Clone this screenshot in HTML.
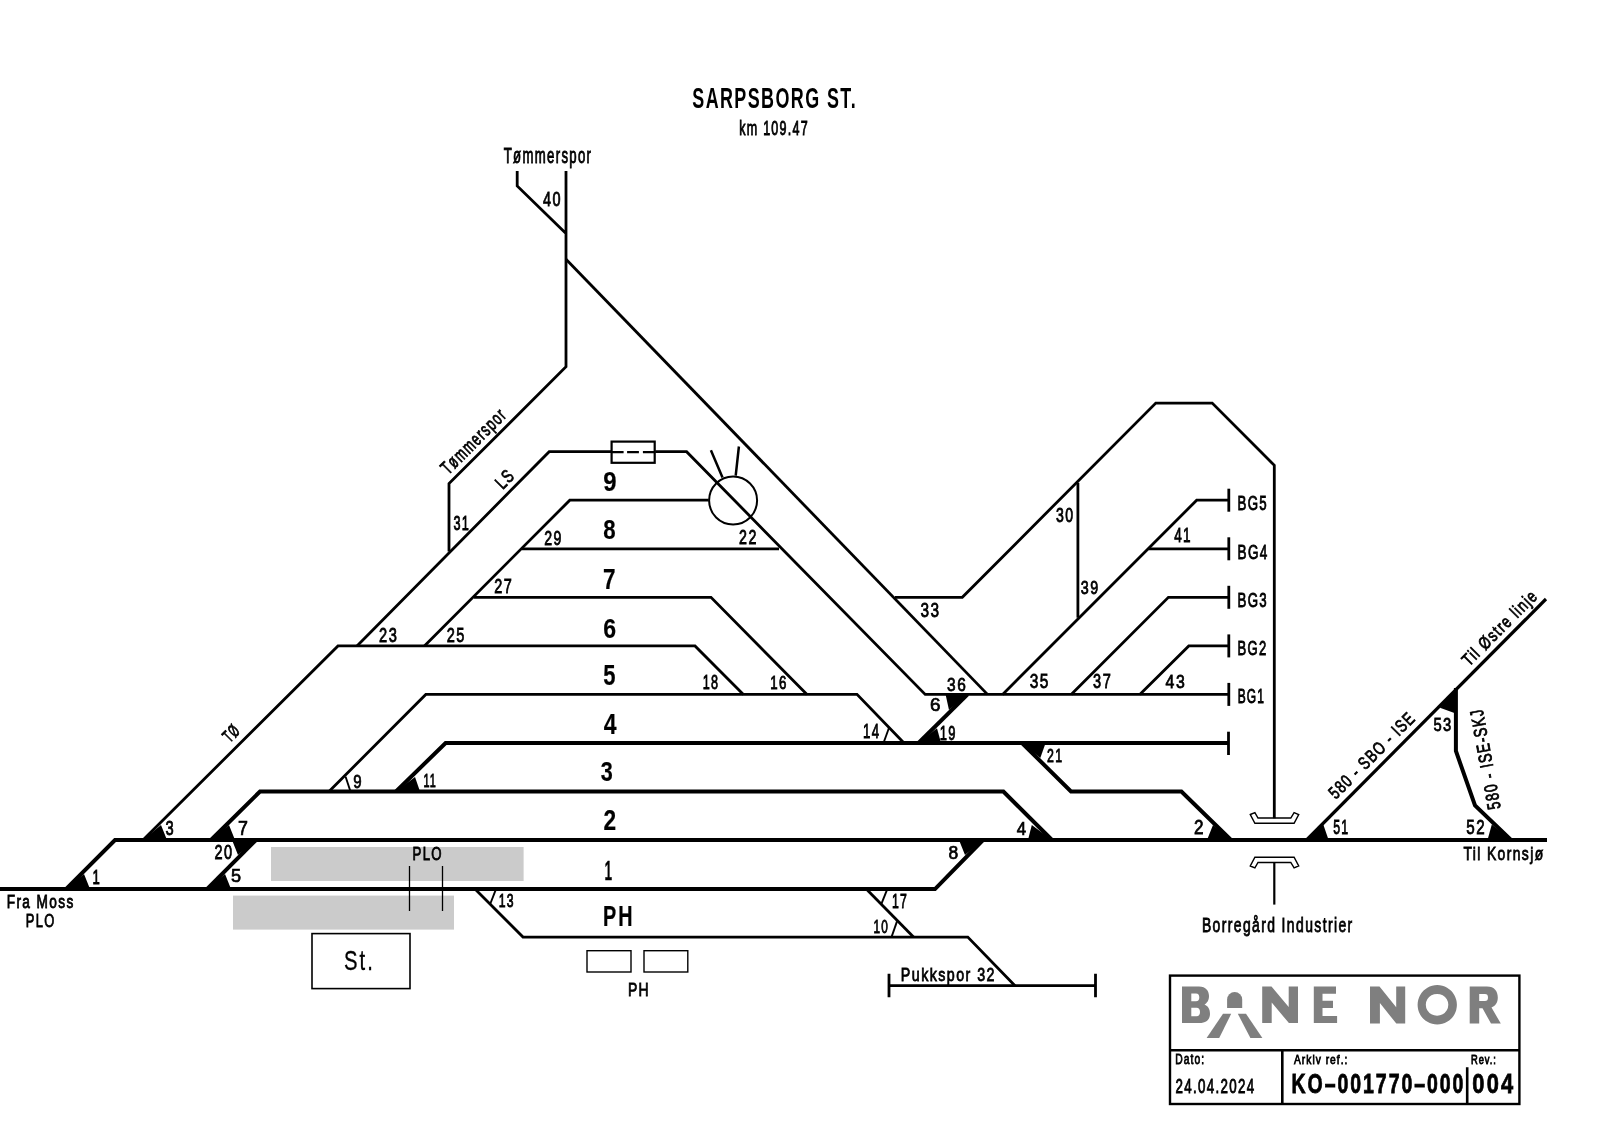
<!DOCTYPE html>
<html><head><meta charset="utf-8"><style>
html,body{margin:0;padding:0;background:#fff;overflow:hidden;}
svg{display:block;will-change:transform;}
text{font-family:"Liberation Sans",sans-serif;fill:#000;}
</style></head><body>
<svg width="1600" height="1131" viewBox="0 0 1600 1131">
<rect width="1600" height="1131" fill="#fff"/>
<g fill="none" stroke="#000" stroke-linejoin="miter" stroke-linecap="butt">
<path d="M0,889.1 H935 L983,840.0" stroke-width="4.0" />
<path d="M66,889.1 L115,840.0 H1547" stroke-width="4.0" />
<path d="M211,840.0 L260,791.5 H1003.4 L1052,840.0" stroke-width="4.0" />
<path d="M256,840.0 L207,889.1" stroke-width="4.0" />
<path d="M396,791.5 L445.6,743.0 H1228.5" stroke-width="4.0" />
<path d="M1022,743.0 L1071,791.5 H1181.4 L1231,840.0" stroke-width="4.0" />
<path d="M1306.6,840.0 L1546,599" stroke-width="3.2" />
<path d="M1455.9,688 V751 L1475,805.5 L1511,840.0" stroke-width="4.0" />
<path d="M329,791.5 L425.8,694.4 H857 L904,743.0" stroke-width="2.8" />
<path d="M143,840.0 L338,645.9 H695 L743.4,694.4" stroke-width="2.8" />
<path d="M424.4,645.9 L569.8,500.2 H708.7" stroke-width="2.8" />
<path d="M474,597.3 H711 L807,694.4" stroke-width="2.8" />
<path d="M522,548.8 H779" stroke-width="2.8" />
<path d="M357,645.9 L549.2,451.7 H611.1 M655.2,451.7 H686.6 L925.2,694.4 H1228.8" stroke-width="2.8" />
<path d="M967.6,694.4 L918.5,743.0" stroke-width="4.0" />
<path d="M517.2,171 V186 L566,233.5 M566,171 V366.7 L449,483.6 V551.5" stroke-width="2.8" />
<path d="M566,259.2 L987.5,694.4" stroke-width="2.8" />
<path d="M895,597.3 H962.3 L1155.8,403.1 H1212.2 L1274.3,465.3 V818.3" stroke-width="2.8" />
<path d="M1077.9,482.8 V617.7" stroke-width="2.8" />
<path d="M1002.6,694.4 L1196.7,500.2 H1228.8" stroke-width="2.8" />
<path d="M1148.5,548.8 H1228.8" stroke-width="2.8" />
<path d="M1071.2,694.4 L1168.4,597.3 H1228.8" stroke-width="2.8" />
<path d="M1139.8,694.4 L1188.8,645.9 H1228.8" stroke-width="2.8" />
<path d="M475,889.1 L523,937.1 H967.8 L1015,985.7" stroke-width="2.8" />
<path d="M866.3,889.1 L913.5,937.1" stroke-width="2.8" />
<path d="M889,985.7 H1095.5 M889,973.8 V997.3 M1095.5,973.8 V997.3" stroke-width="2.8" />
<path d="M1228.8,488.7 V511.7" stroke-width="2.8" />
<path d="M1228.8,537.3 V560.3" stroke-width="2.8" />
<path d="M1228.8,585.8 V608.8" stroke-width="2.8" />
<path d="M1228.8,634.4 V657.4" stroke-width="2.8" />
<path d="M1228.8,682.9 V705.9" stroke-width="2.8" />
<path d="M1228.5,731.7 V755" stroke-width="2.8" />
<path d="M66,889.1 L90.0,889.1 L84.0,874.1 Z" fill="#000" stroke="none"/>
<path d="M143,840.0 L167.0,840.0 L161.0,825.0 Z" fill="#000" stroke="none"/>
<path d="M211,840.0 L235.0,840.0 L229.0,825.0 Z" fill="#000" stroke="none"/>
<path d="M256,840.0 L232.0,840.0 L238.0,855.0 Z" fill="#000" stroke="none"/>
<path d="M207,889.1 L231.0,889.1 L225.0,874.1 Z" fill="#000" stroke="none"/>
<path d="M396,791.5 L420.0,791.5 L415.0,777.1 Z" fill="#000" stroke="none"/>
<path d="M350.5,791.5 L345.6,776.7" stroke-width="1.9"/>
<path d="M496.0,889.1 L490.0,904.5" stroke-width="1.9"/>
<path d="M883.5,743.0 L889.3,727.0" stroke-width="1.9"/>
<path d="M887.3,889.1 L881.3,904.1" stroke-width="1.9"/>
<path d="M891.5,937.1 L897.0,921.4" stroke-width="1.9"/>
<path d="M967.6,694.4 L945.6,694.4 L949.0,710.0 Z" fill="#000" stroke="none"/>
<path d="M918.5,743.0 L941.0,743.0 L937.0,728.3 Z" fill="#000" stroke="none"/>
<path d="M1022,743.0 L1045.6,743.0 L1040.3,758.0 Z" fill="#000" stroke="none"/>
<path d="M1052,840.0 L1028.0,840.0 L1031.8,825.0 Z" fill="#000" stroke="none"/>
<path d="M1231,840.0 L1207.0,840.0 L1213.0,825.0 Z" fill="#000" stroke="none"/>
<path d="M983,840.0 L959.0,840.0 L965.0,855.0 Z" fill="#000" stroke="none"/>
<path d="M1306.6,840.0 L1328.6,840.0 L1323.1,824.0 Z" fill="#000" stroke="none"/>
<path d="M1511,840.0 L1487.5,840.0 L1491.8,824.4 Z" fill="#000" stroke="none"/>
<path d="M1455.9,689 L1454.4,713.0 L1439.9,707.8 Z" fill="#000" stroke="none"/>
<rect x="611.6" y="441.6" width="43.1" height="21.2" stroke-width="2.2" fill="none"/>
<path d="M611.6,452.1 H623.6 M627.1,452.1 H638.9 M642.9,452.1 H654.7" stroke-width="2.4" />
<circle cx="733.1" cy="500.5" r="24" stroke-width="2.0" fill="none"/>
<path d="M722.5,477.4 L710.9,450.2 M735.7,475.7 L738.9,446.5" stroke-width="2.5" />
<rect x="271" y="847" width="252.6" height="34" fill="#cbcbcb" stroke="none"/>
<rect x="233" y="895.6" width="221" height="34" fill="#cbcbcb" stroke="none"/>
<path d="M409.5,866 V911 M442.5,866 V911" stroke-width="1.3" />
<rect x="312" y="933.6" width="98" height="55" stroke-width="1.6" fill="none"/>
<rect x="587" y="950.7" width="44" height="21.3" stroke-width="1.4" fill="none"/>
<rect x="644" y="950.7" width="43.8" height="21.3" stroke-width="1.4" fill="none"/>
<path d="M1250.3,814.5 L1254.9,812.6 L1258,818 H1290.8 L1294.1,812.6 L1298.7,814.5 L1294.1,823.3 H1254.9 Z" stroke-width="1.4" fill="none"/>
<path d="M1250.3,866 L1254.9,867.9 L1258,862.5 H1290.8 L1294.1,867.9 L1298.7,866 L1294.1,857.2 H1254.9 Z" stroke-width="1.4" fill="none"/>
<path d="M1274.3,862.5 V904.6" stroke-width="2.2" />
<rect x="1170" y="975.6" width="349.4" height="128.4" stroke-width="2.4" fill="none"/>
<path d="M1170,1050.2 H1519.4 M1282.3,1050.2 V1104 M1467.2,1067.2 V1104" stroke-width="2.6" />
<g fill="#7f7f7f" stroke="none"><path fill-rule="evenodd" d="M1182,986.5 H1199 C1206,986.5 1209,991 1209,996 C1209,1000.5 1207,1003 1204.5,1004.5 C1208,1006 1210,1009 1210,1014 C1210,1019.5 1206,1023.1 1199.5,1023.1 H1182 Z M1191.3,993.6 V1001.2 H1196 C1198.3,1001.2 1199.3,999.8 1199.3,997.4 C1199.3,995 1198.3,993.6 1196,993.6 Z M1191.3,1007.8 V1016.3 H1196.5 C1199,1016.3 1200,1014.6 1200,1012 C1200,1009.4 1199,1007.8 1196.5,1007.8 Z"/><path d="M1227.1,1008 V999.5 A7.55,7.55 0 0 1 1242.2,999.5 V1008 Z"/><path d="M1223,1013.8 H1231.2 L1219.2,1037.9 H1206.6 Z"/><path d="M1237.8,1013.8 H1246 L1262.4,1037.9 H1250.4 Z"/><path d="M1262.2,986.5 H1271.5 L1288.7,1007 V986.5 H1298 V1023.1 H1288.9 L1271.7,1002.5 V1023.1 H1262.2 Z"/><path d="M1313.8,986.5 H1336 V993.8 H1322.5 V1000.7 H1333 V1008 H1322.5 V1016 H1337.1 V1023.1 H1313.8 Z"/><path d="M1370,986.6 H1379.5 L1396.2,1007.2 V986.6 H1405.2 V1023.6 H1396.3 L1379.9,1003 V1023.6 H1370 Z"/><path fill-rule="evenodd" d="M1437.25,985.1 A19.65,19.7 0 1 1 1437.24,985.1 Z M1437.05,993.9 A11.25,10.9 0 1 0 1437.06,993.9 Z"/><path fill-rule="evenodd" d="M1469.7,986.6 H1487 C1494.5,986.6 1497.8,991.5 1497.8,997.5 C1497.8,1002.5 1495.5,1006 1491.5,1007.5 L1500.8,1023.6 H1491 L1482.5,1008.2 H1479.2 V1023.6 H1469.7 Z M1479.2,994.1 V1001.1 H1485 C1487,1001.1 1488,1000 1488,997.6 C1488,995.2 1487,994.1 1485,994.1 Z"/></g>
</g>
<g stroke="#000">
<text font-size="100" font-weight="bold" stroke="none" letter-spacing="8" transform="matrix(0.17918,0,0,0.28857,692.26,107.90)">SARPSBORG ST.</text>
<text font-size="100" stroke-width="4.47" letter-spacing="10" transform="matrix(0.12530,0,0,0.19586,739.19,134.60)">km 109.47</text>
<text font-size="100" stroke-width="4.19" letter-spacing="10" transform="matrix(0.13181,0,0,0.21159,503.74,162.90)">Tømmerspor</text>
<text font-size="100" stroke-width="4.18" letter-spacing="10" transform="matrix(0.14459,0,0,0.19429,543.01,205.70)">40</text>
<text font-size="100" stroke-width="4.39" letter-spacing="10" transform="matrix(0.12711,0,0,0.20000,453.49,529.50)">31</text>
<text font-size="100" stroke-width="4.11" letter-spacing="10" transform="matrix(0.14170,0,0,0.20429,544.29,544.80)">29</text>
<text font-size="100" stroke-width="4.18" letter-spacing="10" transform="matrix(0.14234,0,0,0.19714,739.09,543.80)">22</text>
<text font-size="100" stroke-width="4.01" letter-spacing="10" transform="matrix(0.14643,0,0,0.20857,379.07,641.80)">23</text>
<text font-size="100" stroke-width="4.02" letter-spacing="10" transform="matrix(0.14554,0,0,0.20857,446.77,641.80)">25</text>
<text font-size="100" stroke-width="4.12" letter-spacing="10" transform="matrix(0.14414,0,0,0.20000,494.28,592.80)">27</text>
<text font-size="100" font-weight="bold" stroke-width="0.78" transform="matrix(0.23918,0,0,0.27714,603.16,490.60)">9</text>
<text font-size="100" font-weight="bold" stroke-width="0.81" transform="matrix(0.22222,0,0,0.27714,603.33,539.40)">8</text>
<text font-size="100" font-weight="bold" stroke-width="0.78" transform="matrix(0.22526,0,0,0.28841,603.10,588.70)">7</text>
<text font-size="100" font-weight="bold" stroke-width="0.78" transform="matrix(0.23093,0,0,0.28429,603.19,638.00)">6</text>
<text font-size="100" font-weight="bold" stroke-width="0.78" transform="matrix(0.22000,0,0,0.30000,603.34,685.00)">5</text>
<text font-size="100" font-weight="bold" stroke-width="0.78" transform="matrix(0.22991,0,0,0.28841,603.66,733.60)">4</text>
<text font-size="100" font-weight="bold" stroke-width="0.81" transform="matrix(0.21616,0,0,0.28000,600.86,780.50)">3</text>
<text font-size="100" font-weight="bold" stroke-width="0.77" transform="matrix(0.22708,0,0,0.29429,603.51,830.20)">2</text>
<text font-size="100" font-weight="bold" stroke-width="1.02" transform="matrix(0.13617,0,0,0.28406,604.58,879.50)">1</text>
<text font-size="100" font-weight="bold" stroke-width="0.83" letter-spacing="10" transform="matrix(0.19779,0,0,0.29275,603.01,926.20)">PH</text>
<text font-size="100" stroke-width="4.44" letter-spacing="10" transform="matrix(0.12603,0,0,0.19714,702.75,689.30)">18</text>
<text font-size="100" stroke-width="4.54" letter-spacing="10" transform="matrix(0.13333,0,0,0.17857,770.30,689.30)">16</text>
<text font-size="100" stroke-width="4.31" letter-spacing="10" transform="matrix(0.13213,0,0,0.20000,863.11,738.40)">14</text>
<text font-size="100" stroke-width="3.73" transform="matrix(0.18925,0,0,0.18571,930.05,711.00)">6</text>
<text font-size="100" stroke-width="4.11" letter-spacing="10" transform="matrix(0.15487,0,0,0.18714,947.08,690.60)">36</text>
<text font-size="100" stroke-width="4.38" letter-spacing="10" transform="matrix(0.12936,0,0,0.19714,939.73,740.30)">19</text>
<text font-size="100" stroke-width="3.99" letter-spacing="10" transform="matrix(0.15398,0,0,0.20000,920.38,617.00)">33</text>
<text font-size="100" stroke-width="4.21" letter-spacing="10" transform="matrix(0.14097,0,0,0.19571,1056.04,521.90)">30</text>
<text font-size="100" stroke-width="4.28" letter-spacing="10" transform="matrix(0.14311,0,0,0.18714,1080.83,594.30)">39</text>
<text font-size="100" stroke-width="4.30" letter-spacing="10" transform="matrix(0.13537,0,0,0.19565,1174.13,541.90)">41</text>
<text font-size="100" stroke-width="4.02" letter-spacing="10" transform="matrix(0.15487,0,0,0.19571,1029.68,688.30)">35</text>
<text font-size="100" stroke-width="4.15" letter-spacing="10" transform="matrix(0.14554,0,0,0.19571,1093.12,688.30)">37</text>
<text font-size="100" stroke-width="4.11" letter-spacing="10" transform="matrix(0.15826,0,0,0.18286,1165.58,687.50)">43</text>
<text font-size="100" stroke-width="4.33" letter-spacing="10" transform="matrix(0.13269,0,0,0.19714,1237.54,509.70)">BG5</text>
<text font-size="100" stroke-width="4.28" letter-spacing="10" transform="matrix(0.13541,0,0,0.19714,1237.52,558.50)">BG4</text>
<text font-size="100" stroke-width="4.30" letter-spacing="10" transform="matrix(0.13269,0,0,0.20000,1237.54,606.90)">BG3</text>
<text font-size="100" stroke-width="4.37" letter-spacing="10" transform="matrix(0.13043,0,0,0.19714,1237.56,655.00)">BG2</text>
<text font-size="100" stroke-width="4.58" letter-spacing="10" transform="matrix(0.12000,0,0,0.19429,1237.64,703.20)">BG1</text>
<text font-size="100" stroke-width="4.55" letter-spacing="10" transform="matrix(0.12377,0,0,0.19143,1047.08,762.00)">21</text>
<text font-size="100" stroke-width="3.81" transform="matrix(0.17143,0,0,0.19714,1193.94,833.50)">2</text>
<text font-size="100" stroke-width="3.90" transform="matrix(0.16832,0,0,0.19130,1016.66,834.60)">4</text>
<text font-size="100" stroke-width="3.84" transform="matrix(0.17447,0,0,0.19000,948.51,858.80)">8</text>
<text font-size="100" stroke-width="4.22" transform="matrix(0.15054,0,0,0.18286,353.22,787.50)">9</text>
<text font-size="100" stroke-width="4.84" letter-spacing="10" transform="matrix(0.10837,0,0,0.19275,423.39,786.70)">11</text>
<text font-size="100" stroke-width="4.05" transform="matrix(0.14737,0,0,0.20286,165.51,835.20)">3</text>
<text font-size="100" stroke-width="3.71" transform="matrix(0.17802,0,0,0.20000,238.01,835.20)">7</text>
<text font-size="100" stroke-width="4.16" letter-spacing="10" transform="matrix(0.14489,0,0,0.19571,214.58,858.70)">20</text>
<text font-size="100" stroke-width="4.29" transform="matrix(0.13103,0,0,0.20290,92.42,884.40)">1</text>
<text font-size="100" stroke-width="3.79" transform="matrix(0.18105,0,0,0.18841,230.88,882.30)">5</text>
<text font-size="100" stroke-width="4.50" letter-spacing="10" transform="matrix(0.13684,0,0,0.17681,6.71,908.30)">Fra Moss</text>
<text font-size="100" stroke-width="4.52" letter-spacing="10" transform="matrix(0.12916,0,0,0.18571,25.77,927.00)">PLO</text>
<text font-size="100" stroke-width="4.58" letter-spacing="10" transform="matrix(0.13205,0,0,0.17714,412.54,860.00)">PLO</text>
<text font-size="100" stroke-width="4.64" letter-spacing="10" transform="matrix(0.12237,0,0,0.18571,498.68,906.60)">13</text>
<text font-size="100" stroke-width="4.33" letter-spacing="10" transform="matrix(0.13962,0,0,0.18696,627.88,996.20)">PH</text>
<text font-size="100" stroke-width="4.49" letter-spacing="10" transform="matrix(0.12258,0,0,0.19855,892.08,907.50)">17</text>
<text font-size="100" stroke-width="4.82" letter-spacing="10" transform="matrix(0.11818,0,0,0.17857,873.61,932.50)">10</text>
<text font-size="100" stroke-width="4.33" letter-spacing="10" transform="matrix(0.14277,0,0,0.18345,900.86,980.80)">Pukkspor 32</text>
<text font-size="100" stroke-width="4.49" letter-spacing="10" transform="matrix(0.12356,0,0,0.19710,1333.21,833.70)">51</text>
<text font-size="100" stroke-width="4.08" letter-spacing="10" transform="matrix(0.15179,0,0,0.19429,1466.29,833.70)">52</text>
<text font-size="100" stroke-width="4.19" letter-spacing="10" transform="matrix(0.14779,0,0,0.18857,1433.41,731.20)">53</text>
<text font-size="100" stroke-width="4.34" letter-spacing="10" transform="matrix(0.13889,0,0,0.18759,1463.42,860.30)">Til Kornsjø</text>
<text font-size="100" stroke-width="4.25" letter-spacing="10" transform="matrix(0.13932,0,0,0.19448,1201.89,932.00)">Borregård Industrier</text>
<text font-size="100" stroke-width="5.75" letter-spacing="10" transform="matrix(0.10325,0,0,0.14348,1175.37,1063.90)">Dato:</text>
<text font-size="100" stroke-width="4.32" letter-spacing="10" transform="matrix(0.13339,0,0,0.19714,1175.53,1093.40)">24.04.2024</text>
<text font-size="100" stroke-width="6.21" letter-spacing="10" transform="matrix(0.10234,0,0,0.12414,1294.00,1063.80)">Arkiv ref.:</text>
<text font-size="100" stroke-width="6.33" letter-spacing="10" transform="matrix(0.09376,0,0,0.13043,1470.95,1063.80)">Rev.:</text>
<text font-size="100" font-weight="bold" stroke-width="2.98" letter-spacing="10" transform="matrix(0.19506,0,0,0.28286,1291.53,1093.00)">KO–001770–000</text>
<text font-size="100" font-weight="bold" stroke-width="2.81" letter-spacing="10" transform="matrix(0.21868,0,0,0.28286,1472.33,1093.00)">004</text>
<text font-size="100" stroke-width="1.28" letter-spacing="10" transform="matrix(0.20233,0,0,0.27143,344.09,970.00)">St.</text>
<text font-size="100" stroke-width="4.56" letter-spacing="10" transform="matrix(0.08859,-0.08859,0.13322,0.13322,448.32,475.28)">Tømmerspor</text>
<text font-size="100" stroke-width="4.46" letter-spacing="10" transform="matrix(0.09468,-0.09468,0.13031,0.13031,502.64,490.06)">LS</text>
<text font-size="100" stroke-width="5.14" letter-spacing="10" transform="matrix(0.07417,-0.07417,0.12526,0.12526,229.75,743.35)">TØ</text>
<text font-size="100" stroke-width="4.58" letter-spacing="10" transform="matrix(0.09328,-0.09328,0.12526,0.12526,1335.83,799.87)">580 - SBO - ISE</text>
<text font-size="100" stroke-width="4.53" letter-spacing="10" transform="matrix(0.09620,-0.09620,0.12387,0.12387,1469.01,666.99)">Til Østre linje</text>
<text font-size="100" stroke-width="4.44" letter-spacing="10" transform="matrix(-0.02418,-0.13176,0.18266,-0.03352,1500.80,808.13)">580 - ISE-SKJ</text>
</g>
</svg>
</body></html>
